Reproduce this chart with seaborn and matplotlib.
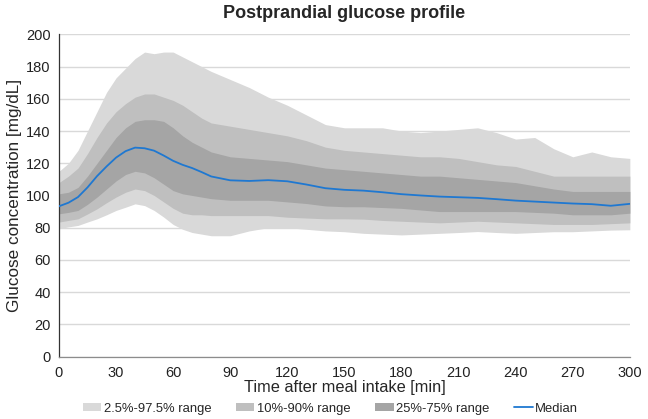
import numpy as np
import pandas as pd
import matplotlib
matplotlib.use("Agg")
import matplotlib.pyplot as plt
import seaborn as sns
from matplotlib.patches import Patch
from matplotlib.lines import Line2D

# minutes after the meal
time_min = [0, 5, 10, 15, 20, 25, 30, 35, 40, 45, 50, 55, 60, 65, 70, 75, 80,
            90, 100, 110, 120, 130, 140, 150, 160, 170, 180, 190, 200, 210,
            220, 230, 240, 250, 260, 270, 280, 290, 300]

p975 = [115, 120, 128, 140, 152, 164, 173, 179, 185, 189, 188, 189, 189, 186,
        183, 180, 177, 172, 167, 161, 156, 150, 144, 142, 142, 142, 140, 139,
        140, 141, 142, 139, 135, 136, 129, 124, 127, 124, 123]
p90 = [108, 112, 117, 126, 136, 145, 152, 157, 161, 163, 163, 161, 159, 156,
       152, 148, 145, 143, 141, 139, 137, 134, 130, 128, 127, 126, 125, 124,
       124, 123, 121, 119, 118, 115, 112, 112, 112, 112, 112]
p75 = [101, 102, 105, 112, 120, 128, 136, 142, 146, 147, 147, 146, 142, 137,
       133, 130, 127, 124, 123, 122, 121, 119, 117, 116, 115, 114, 113, 112,
       112, 111, 110, 109, 108, 106, 104, 102.5, 102.5, 102.5, 102.5]
median = [93.3, 95.5, 99, 105, 112, 118, 123.5, 127.5, 129.7, 129.3, 127.8,
          124.8, 121.5, 119, 117, 114.5, 111.8, 109.4, 109, 109.5, 108.8, 106.8,
          104.5, 103.5, 103, 102, 100.8, 100, 99.3, 98.9, 98.5, 97.7, 96.8,
          96.2, 95.6, 95, 94.6, 93.6, 94.8]
p25 = [88.6, 89.5, 90.7, 94.5, 99, 104, 109, 113, 115, 114, 111, 107, 103,
       101, 100, 99, 98, 97, 97, 97, 96, 95, 93.5, 93, 93, 92.5, 92, 91, 90,
       90, 90, 90, 90, 89.5, 89, 88, 88, 88, 89]
p10 = [83.5, 84.5, 85.5, 88.5, 91.7, 95.5, 99, 102, 104, 103, 100, 96, 92, 89,
       88, 88, 87.5, 87.5, 87.5, 87.5, 86.5, 86, 85.5, 85.5, 85.3, 84.5, 84,
       83.5, 83, 83.5, 84, 83.5, 83, 82.5, 82, 82, 82, 82.5, 83]
p025 = [79.4, 80.5, 81.4, 83.5, 85.5, 88, 90.7, 92.7, 94.8, 93.7, 90.7, 86.6,
        82, 79, 77, 76, 75, 75, 78, 80, 80, 79, 78, 77.5, 76.5, 76, 75.5, 76,
        76.5, 77, 77.6, 77, 76.5, 77, 77.5, 77.5, 78, 78.5, 78.7]

band_labels = ["2.5%-97.5% range", "10%-90% range", "25%-75% range"]
band_colors = ["#d9d9d9", "#bfbfbf", "#a5a5a5"]
median_color = "#1f78d1"

df = pd.DataFrame({"time": time_min, "p025": p025, "p10": p10, "p25": p25,
                   "median": median, "p75": p75, "p90": p90, "p975": p975})

sns.set_theme(style="white")
plt.rcParams["font.family"] = ["Liberation Sans", "DejaVu Sans"]

fig = plt.figure(figsize=(6.48, 4.19), dpi=100)
ax = fig.add_axes([0.091, 0.149, 0.881, 0.769])

ax.yaxis.grid(True, color="#d9d9d9", linewidth=1)
ax.set_axisbelow(True)

bands = [("p025", "p975"), ("p10", "p90"), ("p25", "p75")]
for (lo, hi), col in zip(bands, band_colors):
    ax.fill_between(df["time"], df[lo], df[hi], color=col, linewidth=0, zorder=2)

sns.lineplot(data=df, x="time", y="median", color=median_color, linewidth=1.3,
             ax=ax, zorder=3)

ax.set_xlim(0, 300)
ax.set_ylim(0, 200)
ax.set_xticks(np.arange(0, 301, 30))
ax.set_yticks(np.arange(0, 201, 20))
ax.tick_params(axis="both", labelsize=10.5, length=4, width=0.8, direction="out",
               colors="#222222", pad=2)
ax.tick_params(axis="x", colors="#8c8c8c", labelcolor="#222222", pad=3)

for s in ["top", "right"]:
    ax.spines[s].set_visible(False)
ax.spines["left"].set_color("#333333")
ax.spines["left"].set_linewidth(0.9)
ax.spines["bottom"].set_color("#8c8c8c")
ax.spines["bottom"].set_linewidth(0.9)

ax.set_xlabel("Time after meal intake [min]", fontsize=11.8, labelpad=0)
ax.set_ylabel("Glucose concentration [mg/dL]", fontsize=12.3, labelpad=3)
ax.set_title("Postprandial glucose profile", fontsize=13, fontweight="bold", pad=12)

handles = [Patch(facecolor=c, edgecolor="none", label=l)
           for c, l in zip(band_colors, band_labels)]
handles.append(Line2D([0], [0], color=median_color, linewidth=1.3, label="Median"))
fig.legend(handles=handles, loc="lower center", bbox_to_anchor=(0.51, -0.018),
           ncol=4, frameon=False, fontsize=9.4, handlelength=1.4, handleheight=0.6,
           handletextpad=0.2, columnspacing=1.9)

fig.savefig("out.png", dpi=100)
